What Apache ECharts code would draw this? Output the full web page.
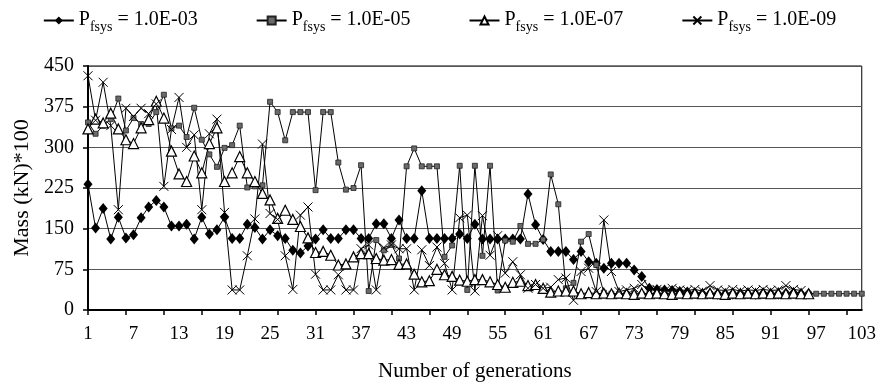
<!DOCTYPE html>
<html>
<head>
<meta charset="utf-8">
<script src="https://cdn.jsdelivr.net/npm/echarts@6/dist/echarts.min.js"></script>
<style>
  html, body { margin: 0; padding: 0; background: #fff; }
  #chart { width: 879px; height: 387px; }
</style>
</head>
<body>
<div id="chart"></div>
<script>
// generations 1..103
const generations = [
  '1','2','3','4','5','6','7','8','9','10','11','12','13','14','15','16','17','18','19','20',
  '21','22','23','24','25','26','27','28','29','30','31','32','33','34','35','36','37','38','39','40',
  '41','42','43','44','45','46','47','48','49','50','51','52','53','54','55','56','57','58','59','60',
  '61','62','63','64','65','66','67','68','69','70','71','72','73','74','75','76','77','78','79','80',
  '81','82','83','84','85','86','87','88','89','90','91','92','93','94','95','96','97','98','99','100',
  '101','102','103'
];

const seriesNames = ['1.0E-03', '1.0E-05', '1.0E-07', '1.0E-09'];

// Pfsys = 1.0E-03 (diamonds)
const massP03 = [
  232,151,187,131,171,133,139,170,190,202,
  190,155,155,158,131,171,140,148,171,132,
  132,158,152,131,148,137,132,110,105,118,
  131,148,132,132,148,148,132,132,159,159,
  132,166,132,132,220,132,132,132,132,140,
  132,158,131,131,131,131,131,131,214,157,
  130,108,108,108,93,108,89,86,77,86,
  86,86,74,62,40,38,37,36,34,33,
  31,30,30,29,30,29,30,30,29,30,
  30,29,31,32,30,30,null,null,null,null,
  null,null,null
];

// Pfsys = 1.0E-05 (squares)
const massP05 = [
  346,325,340,352,390,331,354,343,343,365,
  397,335,340,319,373,314,287,264,299,304,
  340,226,228,230,384,365,313,365,365,365,
  221,365,365,272,222,225,267,35,129,110,
  120,95,265,298,265,265,265,98,119,266,
  37,266,100,266,36,128,126,155,122,122,
  130,250,195,40,50,126,140,83,32,30,
  29,30,30,29,30,29,30,30,29,30,
  30,29,30,30,29,30,30,29,30,30,
  29,30,30,30,29,30,30,30,30,30,
  30,30,30
];

// Pfsys = 1.0E-07 (triangles)
const massP07 = [
  334,352,345,363,334,314,307,336,351,385,
  354,293,251,237,284,253,307,336,237,253,
  283,253,237,215,203,169,184,167,154,133,
  106,108,101,83,85,98,104,104,95,92,
  93,84,85,66,52,54,75,65,62,55,
  53,56,56,52,47,42,51,53,45,47,
  40,33,35,35,35,30,32,30,31,30,
  31,30,29,31,30,31,30,29,31,30,
  31,30,31,30,29,31,30,31,30,31,
  30,31,30,31,30,30,null,null,null,null,
  null,null,null
];

// Pfsys = 1.0E-09 (crosses)
const massP09 = [
  432,350,420,340,185,372,357,372,362,380,
  228,333,392,300,323,185,325,352,180,37,
  37,100,168,306,178,167,100,38,175,190,
  66,37,37,65,37,37,113,120,37,115,
  120,113,113,37,111,82,116,86,37,170,
  175,35,174,101,137,68,89,65,40,47,
  40,42,56,59,18,71,77,34,166,71,
  34,37,40,47,36,38,35,40,37,36,
  38,35,45,37,36,38,35,37,36,38,
  36,37,45,38,36,null,null,null,null,null,
  null,null,null
];

const FONT = 'Liberation Serif';

const chart = echarts.init(document.getElementById('chart'), null, { renderer: 'canvas' });

const lineSeries = (name, data, symbol, size, itemStyle) => ({
  name,
  type: 'line',
  data,
  symbol,
  symbolSize: size,
  showAllSymbol: true,
  connectNulls: false,
  lineStyle: { color: '#000', width: 1 },
  itemStyle,
  emphasis: { disabled: true },
});

chart.setOption({
  animation: false,
  textStyle: { fontFamily: FONT, color: '#000' },
  legend: {
    top: 5,
    left: 'center',
    itemWidth: 30,
    itemHeight: 10,
    itemGap: 58,
    data: seriesNames,
    textStyle: {
      fontFamily: FONT,
      fontSize: 20,
      color: '#000',
      rich: {
        p: { fontFamily: FONT, fontSize: 20, color: '#000', verticalAlign: 'top', lineHeight: 21 },
        s: { fontFamily: FONT, fontSize: 14, color: '#000', verticalAlign: 'top', lineHeight: 14, padding: [10, 0, 0, 0] },
        v: { fontFamily: FONT, fontSize: 20, color: '#000', verticalAlign: 'top', lineHeight: 21 },
      },
    },
    formatter: (name) => '{p|P}{s|fsys}{v| = ' + name + '}',
  },
  grid: {
    left: 88,
    right: 13,
    top: 66,
    bottom: 73,
    show: true,
    borderColor: '#000',
    borderWidth: 1,
  },
  xAxis: {
    type: 'category',
    data: generations,
    boundaryGap: false,
    name: 'Number of generations',
    nameLocation: 'middle',
    nameGap: 51,
    nameTextStyle: { fontFamily: FONT, fontSize: 21, color: '#000' },
    axisLine: { lineStyle: { color: '#000', width: 2 } },
    axisTick: { show: true, interval: 4, length: 5, lineStyle: { color: '#000', width: 1.5 } },
    axisLabel: { interval: 5, margin: 15, fontFamily: FONT, fontSize: 19, color: '#000' },
    splitLine: { show: false },
  },
  yAxis: {
    type: 'value',
    min: 0,
    max: 450,
    interval: 75,
    name: 'Mass (kN)*100',
    nameLocation: 'middle',
    nameGap: 54,
    nameRotate: 90,
    nameTextStyle: { fontFamily: FONT, fontSize: 22, color: '#000' },
    axisLine: { show: true, lineStyle: { color: '#000', width: 2 } },
    axisTick: { show: true, length: 5, lineStyle: { color: '#000', width: 1.5 } },
    axisLabel: { margin: 14, fontFamily: FONT, fontSize: 20, color: '#000' },
    splitLine: { show: true, lineStyle: { color: '#555', width: 1.2 } },
  },
  series: [
    lineSeries(seriesNames[0], massP03, 'diamond', [9, 11], { color: '#000' }),
    lineSeries(seriesNames[1], massP05, 'rect', 5, { color: '#6a6a6a', borderColor: '#222', borderWidth: 0.8 }),
    lineSeries(seriesNames[2], massP07, 'triangle', 10, { color: '#fff', borderColor: '#000', borderWidth: 1.2 }),
    lineSeries(seriesNames[3], massP09, 'path://M0,0L10,10M10,0L0,10', 9, { color: 'none', borderColor: '#000', borderWidth: 1 }),
  ],
});
</script>
</body>
</html>
